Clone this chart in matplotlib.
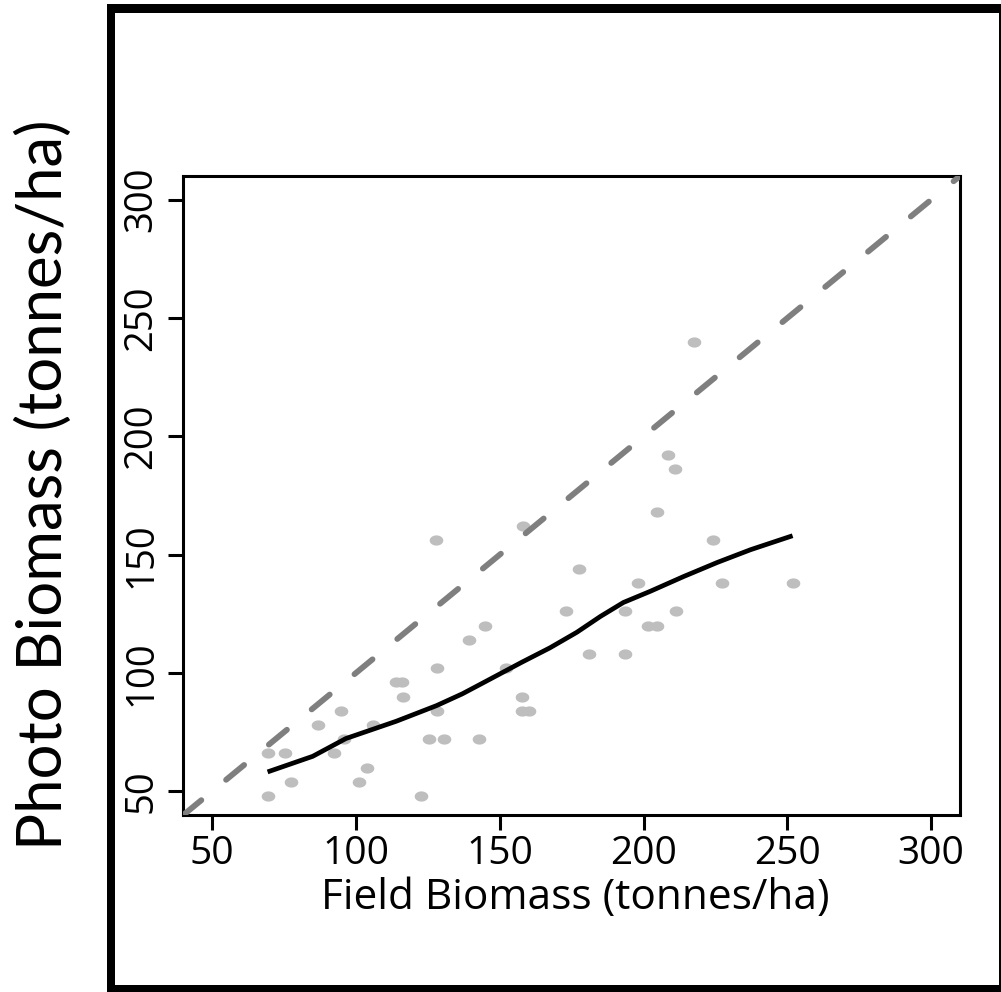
import numpy as np
import matplotlib
matplotlib.use("Agg")
import matplotlib.pyplot as plt
from matplotlib.path import Path
from matplotlib.patches import Rectangle

# Field vs photo-derived biomass (tonnes/ha)
field_biomass = [69.3, 69.5, 75.4, 77.4, 86.8, 94.7, 96.0, 92.5, 101.2, 104.0,
                 106.0, 114.0, 116.0, 116.3, 122.8, 125.3, 128.2, 128.2, 127.9, 130.5,
                 139.3, 142.8, 145.0, 152.1, 157.8, 157.8, 160.1, 158.1, 173.2, 177.7,
                 180.9, 193.4, 193.7, 197.9, 201.5, 204.7, 204.8, 208.4, 211.0, 211.3,
                 217.4, 224.2, 227.4, 251.8]
photo_biomass = [48, 66, 66, 54, 78, 84, 72, 66, 54, 60,
                 78, 96, 96, 90, 48, 72, 84, 102, 156, 72,
                 114, 72, 120, 102, 90, 84, 84, 162, 126, 144,
                 108, 108, 126, 138, 120, 120, 168, 192, 186, 126,
                 240, 156, 138, 138]

# smoothed fit
smooth_x = [69.3, 85, 96.5, 114, 128, 137, 144, 157.6, 167.4, 176.8, 185, 193,
            202.3, 214, 225.6, 237.2, 251.8]
smooth_y = [58.2, 64.8, 72.3, 79.6, 86.2, 91.2, 95.7, 104.5, 110.6, 117.2, 123.9,
            129.8, 134.5, 140.8, 146.7, 152.1, 158.0]

ticks = [50, 100, 150, 200, 250, 300]
limits = (40, 310)

W, H = 1001, 992
fig = plt.figure(figsize=(W / 100, H / 100), dpi=100)

def px_rect(x0, y0, x1, y1, **kw):
    # rectangle in pixel units measured from the top-left corner
    fig.patches.append(Rectangle((x0 / W, 1 - y1 / H), (x1 - x0) / W, (y1 - y0) / H,
                                 transform=fig.transFigure, facecolor="black",
                                 edgecolor="none", **kw))

# outer frame
px_rect(107, 4, 115, 992)
px_rect(107, 4, 1001, 12.5)
px_rect(107, 985, 1001, 992)
px_rect(999, 4, 1001, 992)

ax = fig.add_axes([183.3 / W, 1 - 815 / H, (960 - 183.3) / W, (815 - 176) / H])
ax.set_xlim(limits)
ax.set_ylim(limits)

# flattened dot marker
t = np.linspace(0, 2 * np.pi, 60)
ellipse = Path(np.column_stack([np.cos(t), 0.75 * np.sin(t)]), closed=True)
ax.plot(field_biomass, photo_biomass, linestyle="none", marker=ellipse,
        markersize=9.8, color="#bebebe", markeredgewidth=0, zorder=2)

# 1:1 reference line
ref_line, = ax.plot(limits, limits, color="#7f7f7f", lw=4.2, zorder=3)
ref_line.set_dashes((4.0, 5.5))
ref_line.set_dash_capstyle("round")

ax.plot(smooth_x, smooth_y, color="black", lw=3.4, solid_capstyle="butt", zorder=4)

for s in ax.spines.values():
    s.set_linewidth(2.2)
ax.set_xticks(ticks)
ax.set_yticks(ticks)
ax.tick_params(direction="out", length=10.5, width=2.2, pad=6)
ax.tick_params(axis="x", pad=4)
ax.set_xticklabels([str(v) for v in ticks], family=["Open Sans", "DejaVu Sans"], size=28)
ax.set_yticklabels([str(v) for v in ticks], rotation=90, va="center",
                   family=["Open Sans", "DejaVu Sans"], size=27.5)

fig.text(575 / W, 1 - 898 / H, "Field Biomass (tonnes/ha)", ha="center", va="center",
         family=["Open Sans", "DejaVu Sans"], size=30.5)
fig.text(44 / W, 1 - 485 / H, "Photo Biomass (tonnes/ha)", ha="center", va="center",
         rotation=90, family=["Lato", "DejaVu Sans"], size=44.5)

fig.savefig("out.png", dpi=100, facecolor="white")
